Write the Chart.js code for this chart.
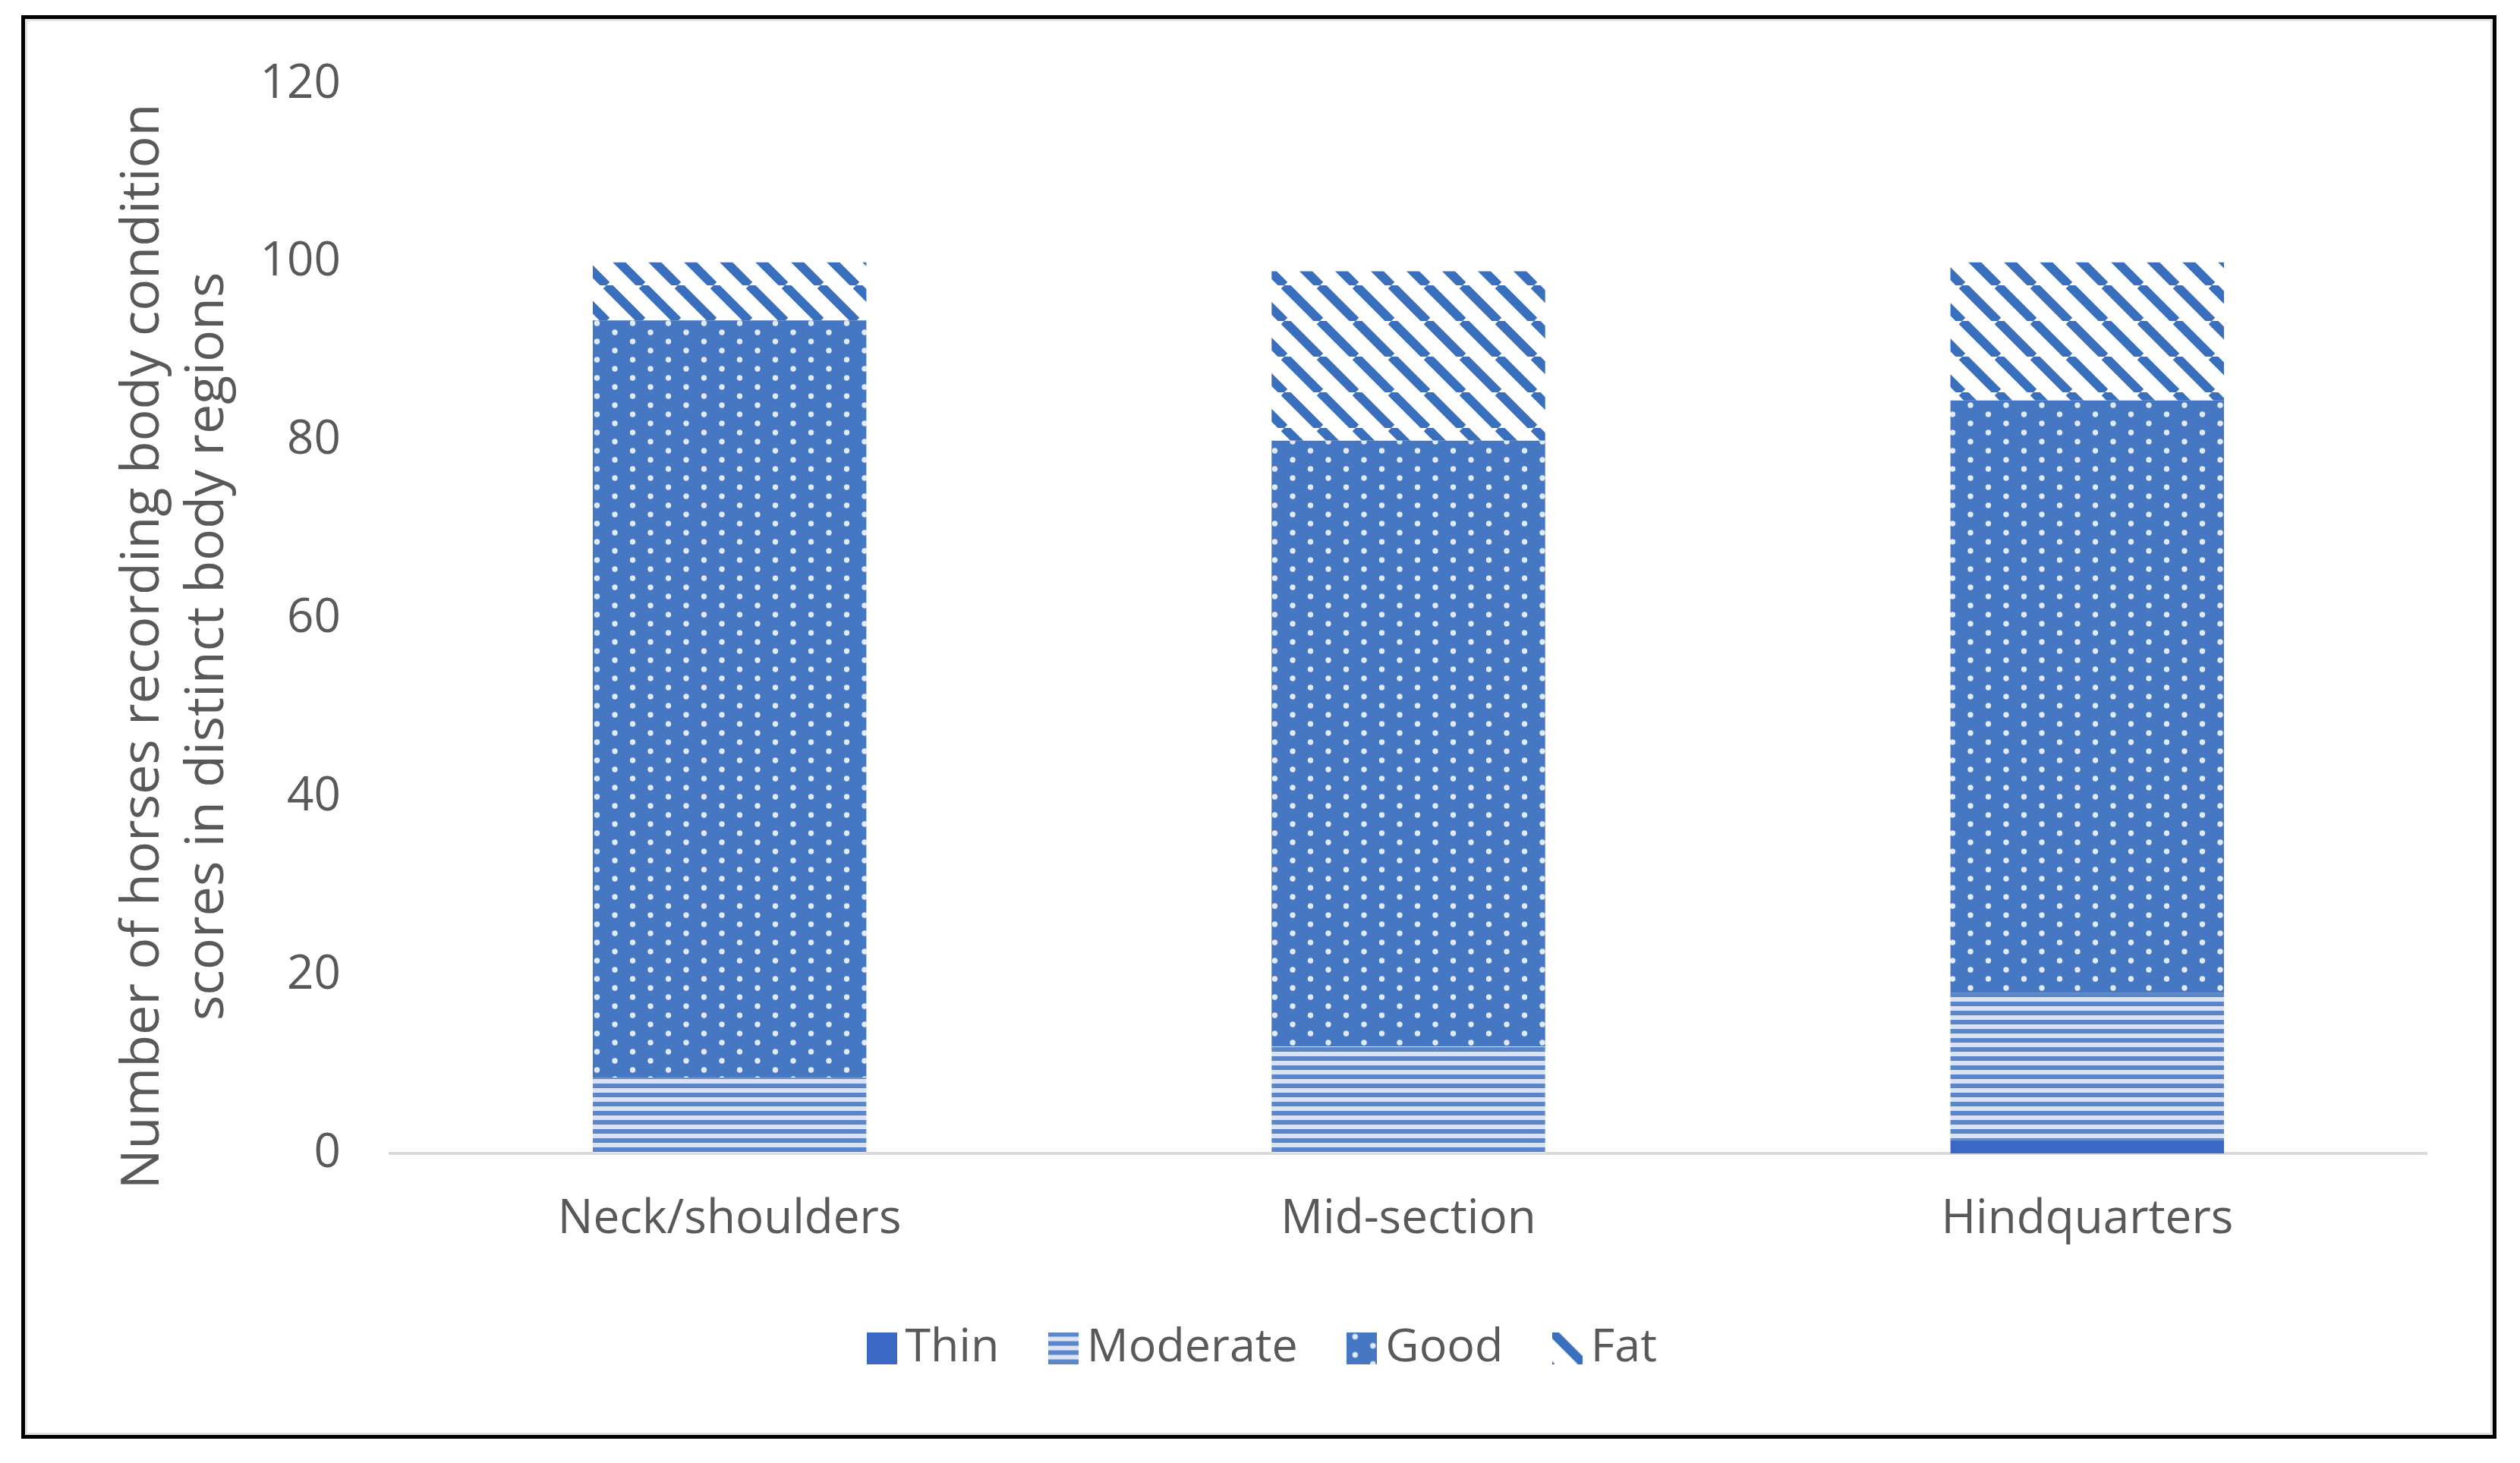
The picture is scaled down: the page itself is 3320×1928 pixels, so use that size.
<!DOCTYPE html>
<html>
<head>
<meta charset="utf-8">
<script src="https://cdn.jsdelivr.net/npm/chart.js@4.4.1/dist/chart.umd.min.js"></script>
<style>
  html, body { margin: 0; padding: 0; background: #fff; }
  #wrap { position: relative; width: 3320px; height: 1928px; background: #fff; }
  #frame { position: absolute; left: 28px; top: 20px; width: 3261px; height: 1876px; box-sizing: border-box;
           border: 5px solid #000; box-shadow: inset 0 0 0 3px #e4e4e4; pointer-events: none; }
  canvas { position: absolute; left: 0; top: 0; }
</style>
</head>
<body>
<div id="wrap">
  <canvas id="chart" width="3320" height="1928"></canvas>
  <div id="frame"></div>
</div>
<script>
// data
const categories = ['Neck/shoulders', 'Mid-section', 'Hindquarters'];
const thin = [0, 0, 1.5];
const moderate = [8.5, 12, 16.5];
const good = [85, 68, 66.5];
const fat = [6.5, 19, 15.5];
const yTicks = [0, 20, 40, 60, 80, 100, 120];

const textColor = '#595959';
const fontFamily = '"Open Sans", "Noto Sans", sans-serif';

// small tiles for the Excel-like fill patterns
function makeTile(w, h, draw) {
  const c = document.createElement('canvas');
  c.width = w;
  c.height = h;
  draw(c.getContext('2d'), w, h);
  return c;
}

const tiles = {
  thin: makeTile(8, 8, (g, w, h) => {
    g.fillStyle = '#3b68c4';
    g.fillRect(0, 0, w, h);
  }),
  moderate: makeTile(12, 12, (g, w, h) => {
    g.fillStyle = '#dae3f3';
    g.fillRect(0, 0, w, h);
    g.fillStyle = '#5b86c9';
    g.fillRect(0, 0, w, 6);
  }),
  good: makeTile(47, 24, (g, w, h) => {
    g.fillStyle = '#4677c2';
    g.fillRect(0, 0, w, h);
    g.fillStyle = '#e2eaf6';
    [[11, 6], [34.5, 18]].forEach(([x, y]) => {
      g.beginPath();
      g.arc(x, y, 3.7, 0, Math.PI * 2);
      g.fill();
    });
  }),
  fat: makeTile(47, 47, (g, w, h) => {
    g.fillStyle = '#ffffff';
    g.fillRect(0, 0, w, h);
    g.strokeStyle = '#3a6fbe';
    g.lineWidth = 12;
    [-1, 0, 1].forEach(k => {
      g.beginPath();
      g.moveTo(k * w, 0);
      g.lineTo(k * w + w, h);
      g.stroke();
    });
  })
};

const ctx = document.getElementById('chart').getContext('2d');
const patterns = {};
Object.keys(tiles).forEach(k => { patterns[k] = ctx.createPattern(tiles[k], 'repeat'); });

// legend markers, filled with the same patterns
function makeIcon(key) {
  return makeTile(40, 42, (g, w, h) => {
    g.fillStyle = g.createPattern(tiles[key], 'repeat');
    g.fillRect(0, 0, w, h);
  });
}
const icons = { thin: makeIcon('thin'), moderate: makeIcon('moderate'), good: makeIcon('good'), fat: makeIcon('fat') };

new Chart(ctx, {
  type: 'bar',
  data: {
    labels: categories,
    datasets: [
      { label: 'Thin', data: thin, backgroundColor: patterns.thin, icon: icons.thin },
      { label: 'Moderate', data: moderate, backgroundColor: patterns.moderate, icon: icons.moderate },
      { label: 'Good', data: good, backgroundColor: patterns.good, icon: icons.good },
      { label: 'Fat', data: fat, backgroundColor: patterns.fat, icon: icons.fat }
    ]
  },
  options: {
    responsive: false,
    devicePixelRatio: 1,
    animation: false,
    layout: { padding: { left: 147, right: 123, top: 111, bottom: 111 } },
    datasets: { bar: { categoryPercentage: 1, barPercentage: 0.403, borderWidth: 0 } },
    plugins: {
      tooltip: { enabled: false },
      legend: {
        position: 'bottom',
        labels: {
          usePointStyle: true,
          pointStyleWidth: 1,
          padding: 84,
          color: textColor,
          font: { family: fontFamily, size: 61 },
          generateLabels: chart => chart.data.datasets.map((ds, i) => ({
            text: ds.label,
            pointStyle: ds.icon,
            fillStyle: 'transparent',
            strokeStyle: 'transparent',
            lineWidth: 0,
            fontColor: textColor,
            hidden: false,
            datasetIndex: i
          }))
        }
      }
    },
    scales: {
      x: {
        stacked: true,
        grid: { display: false, drawTicks: false },
        border: { color: '#d9d9d9', width: 4 },
        ticks: { color: textColor, padding: 50, font: { family: fontFamily, size: 62 } },
        afterFit: s => { s.height = 142; }
      },
      y: {
        stacked: true,
        min: 0,
        max: 120,
        grid: { display: false, drawTicks: false },
        border: { display: false },
        ticks: { color: textColor, padding: 65, font: { family: fontFamily, size: 62 } },
        afterBuildTicks: s => { s.ticks = yTicks.map(v => ({ value: v })); },
        title: {
          display: true,
          text: ['Number of horses recording body condition    ', 'scores in distinct body regions    '],
          color: textColor,
          padding: 0,
          font: { family: fontFamily, size: 70, lineHeight: 1.21 }
        },
        afterFit: s => { s.width = 367; }
      }
    }
  }
});
</script>
</body>
</html>
